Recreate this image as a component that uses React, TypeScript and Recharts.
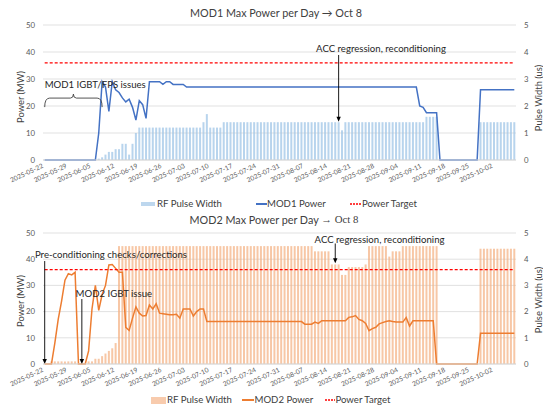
import React from 'react';
import { ComposedChart, Bar, Line, XAxis, YAxis, CartesianGrid, ReferenceLine, Legend } from 'recharts';

const DATES = [
  '2025-05-22','2025-05-23','2025-05-24','2025-05-25','2025-05-26','2025-05-27','2025-05-28','2025-05-29','2025-05-30','2025-05-31',
  '2025-06-01','2025-06-02','2025-06-03','2025-06-04','2025-06-05','2025-06-06','2025-06-07','2025-06-08','2025-06-09','2025-06-10',
  '2025-06-11','2025-06-12','2025-06-13','2025-06-14','2025-06-15','2025-06-16','2025-06-17','2025-06-18','2025-06-19','2025-06-20',
  '2025-06-21','2025-06-22','2025-06-23','2025-06-24','2025-06-25','2025-06-26','2025-06-27','2025-06-28','2025-06-29','2025-06-30',
  '2025-07-01','2025-07-02','2025-07-03','2025-07-04','2025-07-05','2025-07-06','2025-07-07','2025-07-08','2025-07-09','2025-07-10',
  '2025-07-11','2025-07-12','2025-07-13','2025-07-14','2025-07-15','2025-07-16','2025-07-17','2025-07-18','2025-07-19','2025-07-20',
  '2025-07-21','2025-07-22','2025-07-23','2025-07-24','2025-07-25','2025-07-26','2025-07-27','2025-07-28','2025-07-29','2025-07-30',
  '2025-07-31','2025-08-01','2025-08-02','2025-08-03','2025-08-04','2025-08-05','2025-08-06','2025-08-07','2025-08-08','2025-08-09',
  '2025-08-10','2025-08-11','2025-08-12','2025-08-13','2025-08-14','2025-08-15','2025-08-16','2025-08-17','2025-08-18','2025-08-19',
  '2025-08-20','2025-08-21','2025-08-22','2025-08-23','2025-08-24','2025-08-25','2025-08-26','2025-08-27','2025-08-28','2025-08-29',
  '2025-08-30','2025-08-31','2025-09-01','2025-09-02','2025-09-03','2025-09-04','2025-09-05','2025-09-06','2025-09-07','2025-09-08',
  '2025-09-09','2025-09-10','2025-09-11','2025-09-12','2025-09-13','2025-09-14','2025-09-15','2025-09-16','2025-09-17','2025-09-18',
  '2025-09-19','2025-09-20','2025-09-21','2025-09-22','2025-09-23','2025-09-24','2025-09-25','2025-09-26','2025-09-27','2025-09-28',
  '2025-09-29','2025-09-30','2025-10-01','2025-10-02','2025-10-03','2025-10-04','2025-10-05','2025-10-06','2025-10-07','2025-10-08',
];

const TICK_LABELS = [
  '2025-05-22','2025-05-29','2025-06-05','2025-06-12','2025-06-19','2025-06-26','2025-07-03','2025-07-10','2025-07-17','2025-07-24',
  '2025-07-31','2025-08-07','2025-08-14','2025-08-21','2025-08-28','2025-09-04','2025-09-11','2025-09-18','2025-09-25','2025-10-02',
];

// MW
const MOD1_POWER = [
  0,0,0,0,0,0,0,0,0,0,
  0,0,0,0,0,0,10,29,27,18,
  29,26,25,23,21.5,22.5,19.5,14.8,22,20.5,
  15.4,29,29,29,29,28,29,29,28,28,
  28,28,27,27,27,27,27,27,27,27,
  27,27,27,27,27,27,27,27,27,27,
  27,27,27,27,27,27,27,27,27,27,
  27,27,27,27,27,27,27,27,27,27,
  27,27,27,27,27,27,27,27,27,27,
  27,27,27,27,27,27,27,27,27,27,
  27,27,27,27,27,27,27,27,27,27,
  27,20,19.5,17.5,17.5,17.5,17.5,0,0,0,
  0,0,0,0,0,0,0,0,0,26,
  26,26,26,26,26,26,26,26,26,26,
];

// us
const MOD1_PULSE = [
  0,0,0,0,0,0,0,0,0,0,
  0,0,0,0,0,0,0.05,0.1,0.2,0.3,
  0.3,0.4,0.4,0.6,0.6,0.2,0.6,1.0,1.2,1.2,
  1.2,1.2,1.2,1.2,1.2,1.2,1.2,1.2,1.2,1.2,
  1.2,1.2,1.2,1.2,1.2,1.2,1.2,1.4,1.7,1.2,
  1.2,1.2,1.2,1.4,1.4,1.4,1.4,1.4,1.4,1.4,
  1.4,1.4,1.4,1.4,1.4,1.4,1.4,1.4,1.4,1.4,
  1.4,1.4,1.4,1.4,1.4,1.4,1.4,1.4,1.4,1.4,
  1.4,1.4,1.4,1.4,1.4,1.4,1.4,1.4,1.1,1.4,
  1.4,1.4,1.4,1.4,1.4,1.4,1.4,1.4,1.4,1.4,
  1.4,1.4,1.4,1.4,1.4,1.4,1.4,1.4,1.4,1.4,
  1.4,1.4,1.4,1.6,1.6,1.6,1.6,0,0,0,
  0,0,0,0,0,0,0,0,0,1.4,
  1.4,1.4,1.4,1.4,1.4,1.4,1.4,1.4,1.4,1.4,
];

const MOD2_POWER = [
  0,0,0,8,17,24,32,34.5,34,35,
  0,0,0,5,21,30,20.5,26.5,30,37.8,
  38,36.5,35,35,14,12.8,17.5,21.8,19.4,18.3,
  18.5,22.5,21,23,19.4,19.2,19,18.8,18.8,19,
  17.5,21,21,21,18.3,20,21,21,16.2,16.2,
  16.2,16.2,16.2,16.2,16.2,16.2,16.2,16.2,16.2,16.2,
  16.2,16.2,16.2,16.2,16.2,16.2,16.2,16.2,16.2,16.2,
  16.2,16.2,16.2,16.2,16.2,16.2,16.2,15.2,15.2,15.2,
  16,15.5,16.5,16.5,16.5,16.5,16.5,16.5,16.5,16.5,
  17.8,18,18.5,17,16.5,15.5,12.7,13.5,14,15.3,
  15.8,16.2,16.5,16.2,16,16,16,17.7,14.5,16.5,
  16.5,16.5,16.5,16.5,16.5,16.5,0,0,0,0,
  0,0,0,0,0,0,0,0,0,11.7,
  11.7,11.7,11.7,11.7,11.7,11.7,11.7,11.7,11.7,11.7,
];

const MOD2_PULSE = [
  0,0,0.1,0.1,0.1,0.1,0.1,0.1,0.1,0.1,
  0,0,0,0.1,0.1,0.2,0.2,0.3,0.4,0.5,
  0.6,0.8,4.5,4.5,4.5,4.5,4.5,4.5,4.5,4.5,
  4.5,4.5,4.5,4.5,4.5,4.5,4.5,4.5,4.5,4.5,
  4.5,4.5,4.5,4.5,4.5,4.5,4.5,4.5,4.5,4.5,
  4.5,4.5,4.5,4.5,4.5,4.5,4.5,4.5,4.5,4.5,
  4.5,4.5,4.5,4.5,4.5,4.5,4.5,4.5,4.5,4.5,
  4.5,4.5,4.5,4.5,4.5,4.5,4.5,4.5,4.5,4.5,
  4.3,4.3,4.3,4.3,4.3,3.8,3.8,3.8,3.4,3.4,
  3.7,3.7,3.7,3.7,3.7,3.8,4.5,4.5,4.5,4.5,
  4.5,4.5,4.1,4.3,4.3,4.3,4.5,4.5,4.5,4.5,
  4.5,4.5,4.5,4.5,4.5,4.5,4.5,0,0,0,
  0,0,0,0,0,0,0,0,0,4.4,
  4.4,4.4,4.4,4.4,4.4,4.4,4.4,4.4,4.4,4.4,
];

const POWER_TARGET = 36;
const POWER_TICKS = [0, 5, 10, 15, 20, 25, 30, 35, 40, 45, 50];
const PULSE_TICKS = [0, 0.5, 1, 1.5, 2, 2.5, 3, 3.5, 4, 4.5, 5];

const FONT = 'Lato, "Open Sans", sans-serif';
const TXT = '#595959';

const mod1Data = DATES.map((date, i) => ({ date, power: MOD1_POWER[i], pulse: MOD1_PULSE[i], target: POWER_TARGET }));
const mod2Data = DATES.map((date, i) => ({ date, power: MOD2_POWER[i], pulse: MOD2_PULSE[i], target: POWER_TARGET }));

const DateTick = (props: any) => {
  const { x, y, payload } = props;
  const ax = x - 1;
  const ay = y - 0.5;
  return (
    <text x={ax} y={ay} transform={`rotate(-25, ${ax}, ${ay})`} textAnchor="end" fontSize={6.6} fill={TXT} fontFamily={FONT}>
      {payload.value}
    </text>
  );
};

const commaFmt = (v: number) => String(v).replace('.', ',');

function arrowShape(text: string, dx: number, dy: number) {
  return (p: any) => {
    const { x1, y1, x2, y2 } = p;
    return (
      <g>
        <line x1={x1} y1={y1} x2={x2} y2={y2 - 4} stroke="#000" strokeWidth={0.9} />
        <path d={`M${x2 - 2.2},${y2 - 5} L${x2 + 2.2},${y2 - 5} L${x2},${y2} Z`} fill="#000" />
        <text x={x1 + dx} y={y1 + dy} textAnchor="middle" dominantBaseline="central" fontSize={9.6} fill="#262626" fontFamily={FONT}>
          {text}
        </text>
      </g>
    );
  };
}

function braceShape(text: string, dx: number, dy: number) {
  return (p: any) => {
    const { x1, y1, x2 } = p;
    const h = 9;
    const mid = (x1 + x2) / 2;
    const top = y1 - h;
    const d = `M${x1},${y1} Q${x1},${top} ${x1 + 5},${top} L${mid - 3},${top} Q${mid},${top} ${mid},${top - 4} Q${mid},${top} ${mid + 3},${top} L${x2 - 5},${top} Q${x2},${top} ${x2},${y1}`;
    return (
      <g>
        <path d={d} fill="none" stroke="#404040" strokeWidth={0.9} />
        <text x={x1 + dx} y={y1 + dy} textAnchor="middle" dominantBaseline="central" fontSize={9.6} fill="#262626" fontFamily={FONT}>
          {text}
        </text>
      </g>
    );
  };
}

const legendText: React.CSSProperties = { position: 'absolute', top: 0, fontSize: 9.6, lineHeight: '14px', color: '#404040', fontFamily: FONT, whiteSpace: 'nowrap' };

const DashSwatch = ({ left, width }: { left: number; width: number }) => (
  <svg style={{ position: 'absolute', left, top: 5 }} width={width} height={4}>
    <line x1={0} y1={2} x2={width} y2={2} stroke="#FF0000" strokeWidth={1.3} strokeDasharray="2 1" />
  </svg>
);

const TopLegend = () => (
  <div style={{ position: 'relative', width: 543, height: 14 }}>
    <div style={{ position: 'absolute', left: 141, top: 5, width: 14, height: 4, background: '#bdd7ee' }} />
    <div style={{ ...legendText, left: 157 }}>RF Pulse Width</div>
    <div style={{ position: 'absolute', left: 256, top: 6, width: 11, height: 1.5, background: '#4472C4' }} />
    <div style={{ ...legendText, left: 267 }}>MOD1 Power</div>
    <DashSwatch left={350} width={12} />
    <div style={{ ...legendText, left: 362 }}>Power Target</div>
  </div>
);

const BottomLegend = () => (
  <div style={{ position: 'relative', width: 543, height: 14 }}>
    <div style={{ position: 'absolute', left: 151, top: 3.5, width: 15, height: 7, background: '#f8cbad' }} />
    <div style={{ ...legendText, left: 167 }}>RF Pulse Width</div>
    <div style={{ position: 'absolute', left: 242, top: 6, width: 12, height: 1.5, background: '#ED7D31' }} />
    <div style={{ ...legendText, left: 254.5 }}>MOD2 Power</div>
    <DashSwatch left={325} width={10} />
    <div style={{ ...legendText, left: 335.5 }}>Power Target</div>
  </div>
);

export default function App() {
  return (
    <div style={{ position: 'absolute', left: 0, top: 0, width: 543, height: 410, background: '#fff', fontFamily: FONT }}>
      <div style={{ position: 'absolute', left: 0, top: 0 }}>
        <ComposedChart width={543} height={211} data={mod1Data} margin={{ top: 25, right: 0, bottom: 0, left: 0 }} barCategoryGap="20%">
          <CartesianGrid yAxisId="left" vertical={false} stroke="#d9d9d9" strokeWidth={0.8} />
          <XAxis dataKey="date" ticks={TICK_LABELS} interval={0} height={37} tickLine={false} axisLine={{ stroke: '#d9d9d9' }} tick={<DateTick />} />
          <YAxis yAxisId="left" orientation="left" width={43} domain={[0, 50]} ticks={POWER_TICKS} tickLine={false} axisLine={false} tick={{ fontSize: 7.8, fill: TXT, fontFamily: FONT }} />
          <YAxis yAxisId="right" orientation="right" width={27} domain={[0, 5]} ticks={PULSE_TICKS} tickFormatter={commaFmt} tickLine={false} axisLine={false} tick={{ fontSize: 7.8, fill: TXT, fontFamily: FONT, textAnchor: 'start' }} />
          <Bar yAxisId="right" dataKey="pulse" name="RF Pulse Width" fill="#9dc3e6" fillOpacity={0.72} isAnimationActive={false} />
          <Line yAxisId="left" dataKey="power" name="MOD1 Power" type="linear" stroke="#4472C4" strokeWidth={1.5} dot={false} activeDot={false} isAnimationActive={false} />
          <Line yAxisId="left" dataKey="target" name="Power Target" type="linear" stroke="#FF0000" strokeWidth={1.3} strokeDasharray="3 2" dot={false} activeDot={false} isAnimationActive={false} />
          <ReferenceLine yAxisId="left" segment={[{ x: DATES[0], y: 19.6 }, { x: DATES[17], y: 19.6 }]} shape={braceShape('MOD1 IGBT/FPS issues', 50.5, -23)} />
          <ReferenceLine yAxisId="left" segment={[{ x: DATES[87], y: 38.9 }, { x: DATES[87], y: 14.2 }]} shape={arrowShape('ACC regression, reconditioning', 42.4, -6)} />
          <Legend verticalAlign="bottom" align="left" content={() => <TopLegend />} />
        </ComposedChart>
      </div>
      <div style={{ position: 'absolute', left: 0, top: 211 }}>
        <ComposedChart width={543} height={199} data={mod2Data} margin={{ top: 22, right: 0, bottom: 3, left: 0 }} barCategoryGap="20%">
          <CartesianGrid yAxisId="left" vertical={false} stroke="#d9d9d9" strokeWidth={0.8} />
          <XAxis dataKey="date" ticks={TICK_LABELS} interval={0} height={29} tickLine={false} axisLine={{ stroke: '#d9d9d9' }} tick={<DateTick />} />
          <YAxis yAxisId="left" orientation="left" width={43} domain={[0, 50]} ticks={POWER_TICKS} tickLine={false} axisLine={false} tick={{ fontSize: 7.8, fill: TXT, fontFamily: FONT }} />
          <YAxis yAxisId="right" orientation="right" width={27} domain={[0, 5]} ticks={PULSE_TICKS} tickFormatter={commaFmt} tickLine={false} axisLine={false} tick={{ fontSize: 7.8, fill: TXT, fontFamily: FONT, textAnchor: 'start' }} />
          <Bar yAxisId="right" dataKey="pulse" name="RF Pulse Width" fill="#f4b183" fillOpacity={0.72} isAnimationActive={false} />
          <Line yAxisId="left" dataKey="power" name="MOD2 Power" type="linear" stroke="#ED7D31" strokeWidth={1.5} dot={false} activeDot={false} isAnimationActive={false} />
          <Line yAxisId="left" dataKey="target" name="Power Target" type="linear" stroke="#FF0000" strokeWidth={1.3} strokeDasharray="3 2" dot={false} activeDot={false} isAnimationActive={false} />
          <ReferenceLine yAxisId="left" segment={[{ x: DATES[86], y: 46 }, { x: DATES[86], y: 38.5 }]} shape={arrowShape('ACC regression, reconditioning', 44.3, -4)} />
          <ReferenceLine yAxisId="left" segment={[{ x: DATES[0], y: 39.3 }, { x: DATES[0], y: 0 }]} shape={arrowShape('Pre-conditioning checks/corrections', 66.3, -6.7)} />
          <ReferenceLine yAxisId="left" segment={[{ x: DATES[11], y: 24.8 }, { x: DATES[11], y: 0 }]} shape={arrowShape('MOD2 IGBT issue', 32, -5.7)} />
          <Legend verticalAlign="bottom" align="left" content={() => <BottomLegend />} />
        </ComposedChart>
      </div>
      <svg style={{ position: 'absolute', left: 0, top: 0, pointerEvents: 'none' }} width={543} height={410}>
        <text x={276} y={12} textAnchor="middle" dominantBaseline="central" fontSize={10.8} fill="#404040" fontFamily={FONT}>MOD1 Max Power per Day → Oct 8</text>
        <text x={274} y={219} textAnchor="middle" dominantBaseline="central" fontSize={10.8} fill="#404040" fontFamily={FONT}>
          MOD2 Max Power per Day <tspan fontFamily='"Liberation Serif", serif'>→ Oct 8</tspan>
        </text>
        <text transform="translate(20, 97) rotate(-90)" textAnchor="middle" dominantBaseline="central" fontSize={9.4} fill="#404040" fontFamily={FONT}>Power (MW)</text>
        <text transform="translate(20, 301) rotate(-90)" textAnchor="middle" dominantBaseline="central" fontSize={9.4} fill="#404040" fontFamily={FONT}>Power (MW)</text>
        <text transform="translate(538, 98) rotate(-90)" textAnchor="middle" dominantBaseline="central" fontSize={9.4} fill="#404040" fontFamily={FONT}>Pulse Width (us)</text>
        <text transform="translate(538, 300) rotate(-90)" textAnchor="middle" dominantBaseline="central" fontSize={9.4} fill="#404040" fontFamily={FONT}>Pulse Width (us)</text>
      </svg>
    </div>
  );
}
